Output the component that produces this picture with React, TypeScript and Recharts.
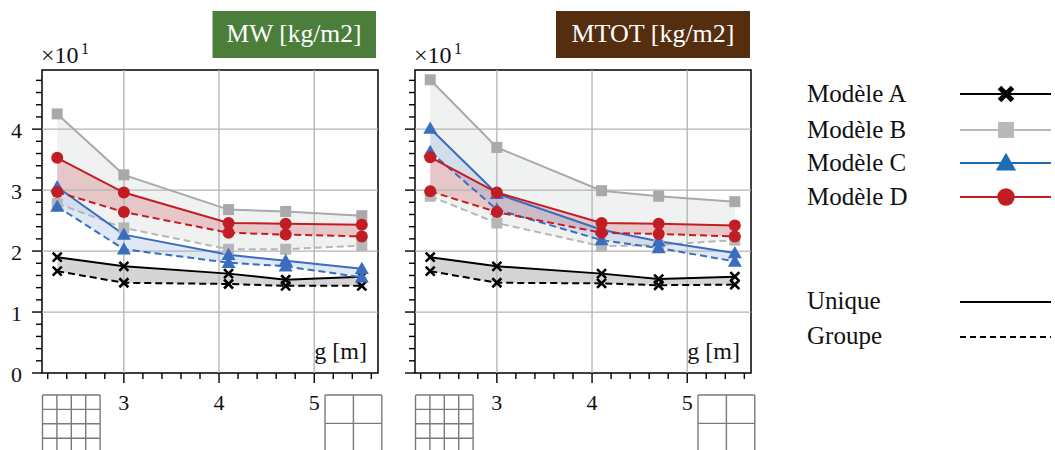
import React from 'react';
import {
  Area,
  ComposedChart,
  Line,
  ReferenceArea,
  ReferenceLine,
  XAxis,
  YAxis,
} from 'recharts';

const FONT = 'Liberation Serif, Times New Roman, serif';

// abscissa g [m]
const gValues = [2.3, 3, 4.1, 4.7, 5.5];

// MW [kg/m2] (x10)
const mwAUnique = [1.9, 1.75, 1.63, 1.53, 1.58];
const mwAGroupe = [1.67, 1.48, 1.46, 1.43, 1.43];
const mwBUnique = [4.25, 3.25, 2.68, 2.65, 2.58];
const mwBGroupe = [2.78, 2.38, 2.03, 2.03, 2.09];
const mwCUnique = [3.05, 2.27, 1.94, 1.84, 1.71];
const mwCGroupe = [2.73, 2.03, 1.81, 1.75, 1.57];
const mwDUnique = [3.53, 2.96, 2.46, 2.45, 2.43];
const mwDGroupe = [2.97, 2.64, 2.3, 2.27, 2.24];

// MTOT [kg/m2] (x10)
const mtAUnique = [1.9, 1.75, 1.63, 1.54, 1.58];
const mtAGroupe = [1.67, 1.48, 1.47, 1.44, 1.45];
const mtBUnique = [4.81, 3.7, 2.99, 2.9, 2.81];
const mtBGroupe = [2.9, 2.46, 2.08, 2.1, 2.18];
const mtCUnique = [4.01, 2.94, 2.35, 2.16, 1.97];
const mtCGroupe = [3.63, 2.68, 2.18, 2.05, 1.83];
const mtDUnique = [3.54, 2.96, 2.46, 2.45, 2.42];
const mtDGroupe = [2.98, 2.64, 2.3, 2.28, 2.24];

const xTicks = [2.2, 2.4, 2.6, 2.8, 3, 3.2, 3.4, 3.6, 3.8, 4, 4.2, 4.4, 4.6, 4.8, 5, 5.2, 5.4, 5.6];
const yTicks = [
  0, 0.2, 0.4, 0.6, 0.8, 1, 1.2, 1.4, 1.6, 1.8, 2, 2.2, 2.4, 2.6, 2.8, 3, 3.2, 3.4, 3.6, 3.8, 4,
  4.2, 4.4, 4.6, 4.8,
];
const xGrid = [3, 4, 5];
const yGrid = [1, 2, 3, 4];
const X_MIN = 2.14;
const X_MAX = 5.67;
const Y_MAX = 4.97;

const legendModels = ['Modèle A', 'Modèle B', 'Modèle C', 'Modèle D'];
const legendStyles = ['Unique', 'Groupe'];

type Shape = 'cross' | 'square' | 'triangle' | 'circle';

const models: {
  key: string;
  color: string;
  dashColor: string;
  fill: string;
  fillOpacity: number;
  shape: Shape;
}[] = [
  { key: 'B', color: '#a9a9a9', dashColor: '#b6b6b6', fill: '#dde3e0', fillOpacity: 0.45, shape: 'square' },
  { key: 'A', color: '#000000', dashColor: '#000000', fill: '#9a9a9a', fillOpacity: 0.42, shape: 'cross' },
  { key: 'C', color: '#3a6dc0', dashColor: '#3a6dc0', fill: '#6f95d3', fillOpacity: 0.22, shape: 'triangle' },
  { key: 'D', color: '#c21d24', dashColor: '#c21d24', fill: '#c8454a', fillOpacity: 0.25, shape: 'circle' },
];
const areaOrder = ['B', 'A', 'D', 'C'];

const buildRows = (s: Record<string, number[]>) =>
  gValues.map((g, i) => {
    const row: any = { g };
    ['A', 'B', 'C', 'D'].forEach((k) => {
      row[k + 'u'] = s[k + 'u'][i];
      row[k + 'g'] = s[k + 'g'][i];
      row[k + 'r'] = [s[k + 'g'][i], s[k + 'u'][i]];
    });
    return row;
  });

const mwRows = buildRows({
  Au: mwAUnique, Ag: mwAGroupe, Bu: mwBUnique, Bg: mwBGroupe,
  Cu: mwCUnique, Cg: mwCGroupe, Du: mwDUnique, Dg: mwDGroupe,
});
const mtRows = buildRows({
  Au: mtAUnique, Ag: mtAGroupe, Bu: mtBUnique, Bg: mtBGroupe,
  Cu: mtCUnique, Cg: mtCGroupe, Du: mtDUnique, Dg: mtDGroupe,
});

const isMajor = (v: number) => Math.abs(v - Math.round(v)) < 1e-6;

const Marker = ({ shape, cx, cy, color, big }: { shape: Shape; cx: number; cy: number; color: string; big?: boolean }) => {
  const s = big ? 1.45 : 1;
  if (shape === 'cross') {
    const d = 4.5 * s;
    return (
      <g>
        <line x1={cx - d} y1={cy - d} x2={cx + d} y2={cy + d} stroke={color} strokeWidth={big ? 5 : 2.6} />
        <line x1={cx - d} y1={cy + d} x2={cx + d} y2={cy - d} stroke={color} strokeWidth={big ? 5 : 2.6} />
      </g>
    );
  }
  if (shape === 'square') {
    const d = 5.5 * s;
    return <rect x={cx - d} y={cy - d} width={2 * d} height={2 * d} fill={color} />;
  }
  if (shape === 'triangle') {
    const d = 7 * s;
    return <polygon points={`${cx},${cy - d} ${cx - d},${cy + d * 0.75} ${cx + d},${cy + d * 0.75}`} fill={color} />;
  }
  return <circle cx={cx} cy={cy} r={6 * s} fill={color} />;
};

const makeDot = (shape: Shape, color: string) => (props: any) => {
  const { cx, cy, index } = props;
  if (cx == null || cy == null) return <g key={`d-${index}`} />;
  return (
    <g key={`d-${index}`}>
      <Marker shape={shape} cx={cx} cy={cy} color={color} />
    </g>
  );
};

const XTick = (props: any) => {
  const { x, y, payload } = props;
  const major = isMajor(payload.value);
  return (
    <g>
      <line x1={x} x2={x} y1={y} y2={y + (major ? 10 : 6)} stroke="#000" strokeWidth={1.4} />
      {major && (
        <text x={x} y={y + 37} textAnchor="middle" style={{ fontFamily: FONT }} fontSize={22} fill="#111">
          {Math.round(payload.value)}
        </text>
      )}
    </g>
  );
};

const makeYTick = (showLabels: boolean) => (props: any) => {
  const { x, y, payload } = props;
  const major = isMajor(payload.value);
  return (
    <g>
      <line x1={x - (major ? 10 : 6)} x2={x} y1={y} y2={y} stroke="#000" strokeWidth={1.4} />
      {major && showLabels && (
        <text x={x - 25.5} y={y + 9} textAnchor="middle" style={{ fontFamily: FONT }} fontSize={22} fill="#111">
          {Math.round(payload.value)}
        </text>
      )}
    </g>
  );
};

const GridIcon = ({ x, y, cols, rows, cell }: { x: number; y: number; cols: number; rows: number; cell: number }) => {
  const lines = [];
  for (let c = 0; c <= cols; c++) {
    lines.push(<line key={'c' + c} x1={x + c * cell} x2={x + c * cell} y1={y} y2={y + rows * cell} />);
  }
  for (let r = 0; r <= rows; r++) {
    lines.push(<line key={'r' + r} x1={x} x2={x + cols * cell} y1={y + r * cell} y2={y + r * cell} />);
  }
  return (
    <g stroke="#7a7a7a" strokeWidth={1.4}>
      {lines}
    </g>
  );
};

const Panel = ({
  rows,
  left,
  showYLabels,
}: {
  rows: any[];
  left: number;
  showYLabels: boolean;
}) => (
  <div style={{ position: 'absolute', left, top: 0 }}>
    <ComposedChart width={390} height={450} data={rows} margin={{ top: 70, right: 12, bottom: 0, left: 0 }}>
      <XAxis
        type="number"
        dataKey="g"
        domain={[X_MIN, X_MAX]}
        allowDataOverflow
        ticks={xTicks}
        interval={0}
        tick={<XTick />}
        tickLine={false}
        axisLine={false}
        tickSize={0}
        tickMargin={0}
        height={77}
      />
      <YAxis
        type="number"
        domain={[0, Y_MAX]}
        allowDataOverflow
        ticks={yTicks}
        interval={0}
        tick={makeYTick(showYLabels)}
        tickLine={false}
        axisLine={false}
        tickSize={0}
        tickMargin={0}
        width={42}
      />
      {xGrid.map((v) => (
        <ReferenceLine key={'gx' + v} x={v} stroke="#b3b3b3" strokeWidth={1.3} />
      ))}
      {yGrid.map((v) => (
        <ReferenceLine key={'gy' + v} y={v} stroke="#b3b3b3" strokeWidth={1.3} />
      ))}
      {areaOrder.map((k) => {
        const m = models.find((mm) => mm.key === k)!;
        return (
          <Area
            key={'area' + k}
            type="linear"
            dataKey={k + 'r'}
            stroke="none"
            fill={m.fill}
            fillOpacity={m.fillOpacity}
            isAnimationActive={false}
            activeDot={false}
          />
        );
      })}
      {models.map((m) => [
        <Line
          key={'g' + m.key}
          type="linear"
          dataKey={m.key + 'g'}
          stroke={m.dashColor}
          strokeWidth={2}
          strokeDasharray="7 4"
          dot={makeDot(m.shape, m.dashColor)}
          activeDot={false}
          isAnimationActive={false}
        />,
        <Line
          key={'u' + m.key}
          type="linear"
          dataKey={m.key + 'u'}
          stroke={m.color}
          strokeWidth={2}
          dot={makeDot(m.shape, m.color)}
          activeDot={false}
          isAnimationActive={false}
        />,
      ])}
      <ReferenceArea
        x1={X_MIN}
        x2={X_MAX}
        y1={0}
        y2={Y_MAX}
        fill="none"
        stroke="#000"
        strokeWidth={1.5}
        fillOpacity={0}
        ifOverflow="visible"
      />
    </ComposedChart>
  </div>
);

const legendColors = ['#000000', '#b9b9b9', '#1c6cb6', '#c11e24'];
const legendShapes: Shape[] = ['cross', 'square', 'triangle', 'circle'];

export default function App() {
  return (
    <div style={{ position: 'absolute', left: 0, top: 0, width: 1055, height: 450, background: '#fff', overflow: 'hidden' }}>
      <Panel rows={mwRows} left={0} showYLabels />
      <Panel rows={mtRows} left={373} showYLabels={false} />
      <svg
        width={1055}
        height={450}
        style={{ position: 'absolute', left: 0, top: 0, pointerEvents: 'none', fontFamily: FONT }}
      >
        {/* titles */}
        <rect x={212.5} y={11} width={163.5} height={47} fill="#4a7e3a" />
        <text x={294} y={42} textAnchor="middle" fontSize={25.5} fill="#fff">
          MW [kg/m2]
        </text>
        <rect x={556} y={11} width={194} height={47} fill="#552d0f" />
        <text x={653} y={42} textAnchor="middle" fontSize={26} fill="#fff">
          MTOT [kg/m2]
        </text>
        {/* multipliers */}
        {[41, 414].map((x) => (
          <g key={'m' + x} fill="#111">
            <text x={x} y={63} fontSize={24}>×10</text>
            <text x={x + 40} y={54} fontSize={16}>1</text>
          </g>
        ))}
        {/* axis name inside */}
        {[367, 740].map((x) => (
          <text key={'gm' + x} x={x} y={359} textAnchor="end" fontSize={24} fill="#111">
            g [m]
          </text>
        ))}
        {/* layout pictograms */}
        <GridIcon x={42.5} y={395} cols={4} rows={4} cell={14.4} />
        <GridIcon x={325} y={395} cols={2} rows={2} cell={28.4} />
        <GridIcon x={415.5} y={395} cols={4} rows={4} cell={14.4} />
        <GridIcon x={698} y={395} cols={2} rows={2} cell={28.4} />
        {/* legend */}
        {legendModels.map((name, i) => {
          const cy = [94, 130, 163, 197][i];
          return (
            <g key={name}>
              <text x={807} y={cy + 8} fontSize={25} fill="#111">
                {name}
              </text>
              <line x1={960} x2={1051} y1={cy} y2={cy} stroke={legendColors[i]} strokeWidth={2} />
              <Marker shape={legendShapes[i]} cx={1006} cy={cy} color={legendColors[i]} big />
            </g>
          );
        })}
        {legendStyles.map((name, i) => {
          const cy = [302, 337][i];
          return (
            <g key={name}>
              <text x={807} y={cy + 7} fontSize={25} fill="#111">
                {name}
              </text>
              <line
                x1={960}
                x2={1051}
                y1={cy}
                y2={cy}
                stroke="#000"
                strokeWidth={2}
                strokeDasharray={i === 1 ? '6 4' : undefined}
              />
            </g>
          );
        })}
      </svg>
    </div>
  );
}
